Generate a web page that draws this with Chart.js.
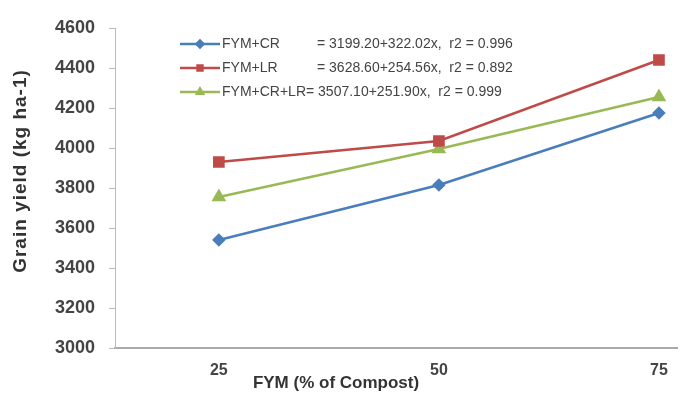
<!DOCTYPE html>
<html>
<head>
<meta charset="utf-8">
<script src="https://cdn.jsdelivr.net/npm/chart.js@4/dist/chart.umd.min.js"></script>
<style>
html,body{margin:0;padding:0;background:#fff;}
#wrap{width:686px;height:400px;position:relative;}
</style>
</head>
<body>
<div id="wrap"><canvas id="c" width="686" height="400"></canvas></div>
<script>
const categories = [25, 50, 75];
const fymCR = [3540, 3815, 4175];
const fymLR = [3930, 4035, 4440];
const fymCRLR = [3755, 3995, 4255];
const seriesNames = ['FYM+CR', 'FYM+LR', 'FYM+CR+LR'];
const equations = ['= 3199.20+322.02x,  r2 = 0.996', '= 3628.60+254.56x,  r2 = 0.892', '= 3507.10+251.90x,  r2 = 0.999'];
const yTicks = [3000, 3200, 3400, 3600, 3800, 4000, 4200, 4400, 4600];
const xTitle = 'FYM (% of Compost)';
const yTitle = 'Grain yield (kg ha-1)';

const colors = ['#4A7EBB', '#BE4B48', '#98B954'];
const styles = ['rectRot', 'rect', 'triangle'];
const radii = [5, 6.5, 6];
const FONT = '"Liberation Sans", Arial, sans-serif';

function pts(arr){ return categories.map((c,i)=>({x:c, y:arr[i]})); }

const decorPlugin = {
  id: 'decor',
  afterDraw(chart){
    const ctx = chart.ctx;
    ctx.save();
    // legend
    const x0 = 180, rows = [44, 68, 92];
    chart.data.datasets.forEach((ds, i) => {
      const y = rows[i];
      ctx.strokeStyle = ds.borderColor;
      ctx.lineWidth = 2.5;
      ctx.beginPath(); ctx.moveTo(x0, y); ctx.lineTo(x0+40, y); ctx.stroke();
      ctx.fillStyle = ds.borderColor;
      Chart.helpers.drawPoint(ctx, {pointStyle: ds.pointStyle, radius: 3.5, borderWidth: 1}, x0+20, y);
      ctx.fillStyle = '#444';
      ctx.font = '14px ' + FONT;
      ctx.textBaseline = 'middle';
      ctx.textAlign = 'left';
      ctx.fillText(seriesNames[i], x0+42, y);
      const ex = i === 2 ? x0 + 42 + ctx.measureText(seriesNames[i]).width : 317;
      ctx.fillText(equations[i], ex, y);
    });
    // axis titles
    ctx.fillStyle = '#333';
    ctx.textAlign = 'center';
    ctx.textBaseline = 'middle';
    ctx.font = 'bold 17px ' + FONT;
    ctx.fillText(xTitle, 336, 383);
    ctx.translate(21, 171);
    ctx.rotate(-Math.PI/2);
    ctx.letterSpacing = '1px';
    ctx.font = 'bold 19px ' + FONT;
    ctx.fillText(yTitle, 0, 0);
    ctx.restore();
  }
};

new Chart(document.getElementById('c'), {
  type: 'line',
  data: {
    datasets: [fymCR, fymLR, fymCRLR].map((arr, i) => ({
      label: seriesNames[i],
      data: pts(arr),
      borderColor: colors[i],
      backgroundColor: colors[i],
      pointBackgroundColor: colors[i],
      pointBorderColor: colors[i],
      pointStyle: styles[i],
      pointRadius: radii[i],
      borderWidth: 2.5,
      tension: 0
    }))
  },
  options: {
    responsive: false,
    animation: false,
    layout: { padding: { top: 28, right: 0, left: 0, bottom: 0 } },
    plugins: { legend: { display: false }, tooltip: { enabled: false } },
    scales: {
      x: {
        type: 'linear',
        min: 13.2, max: 77.05,
        afterBuildTicks(s){ s.ticks = categories.map(v => ({value: v})); },
        afterFit(s){ s.height = 52; },
        grid: { display: true, drawOnChartArea: false, drawTicks: false, color: '#bbb' },
        border: { color: '#aaa', width: 2 },
        ticks: { padding: 13, color: '#444', font: { size: 16, weight: 'bold', family: FONT },
                 callback: v => String(v) }
      },
      y: {
        min: 3000, max: 4600,
        afterBuildTicks(s){ s.ticks = yTicks.map(v => ({value: v})); },
        afterFit(s){ s.width = 115; },
        grid: { drawOnChartArea: false, tickLength: 6, color: '#bbb' },
        border: { color: '#bbb', width: 1 },
        ticks: { padding: 14, color: '#444', font: { size: 18, weight: 'bold', family: FONT },
                 callback: v => String(v) }
      }
    }
  },
  plugins: [decorPlugin]
});
</script>
</body>
</html>
